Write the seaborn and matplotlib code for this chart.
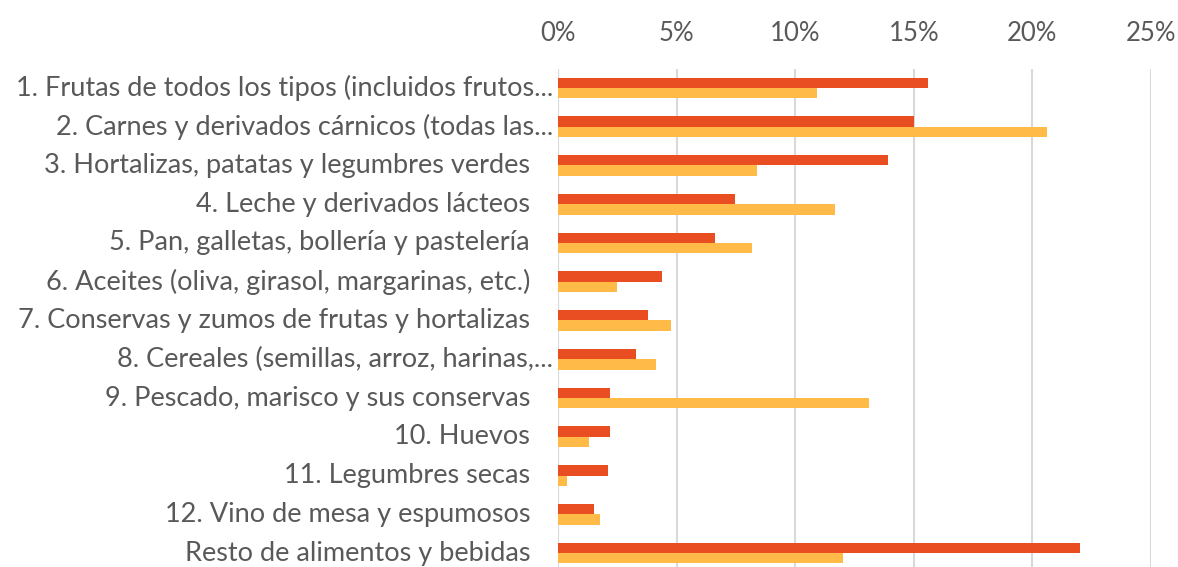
import matplotlib
matplotlib.use("Agg")
import matplotlib.pyplot as plt
import matplotlib.transforms as mtransforms
import seaborn as sns
import pandas as pd
from matplotlib.ticker import PercentFormatter

categorias = [
    "1. Frutas de todos los tipos (incluidos frutos...",
    "2. Carnes y derivados cárnicos (todas las...",
    "3. Hortalizas, patatas y legumbres verdes",
    "4. Leche y derivados lácteos",
    "5. Pan, galletas, bollería y pastelería",
    "6. Aceites (oliva, girasol, margarinas, etc.)",
    "7. Conservas y zumos de frutas y hortalizas",
    "8. Cereales (semillas, arroz, harinas,...",
    "9. Pescado, marisco y sus conservas",
    "10. Huevos",
    "11. Legumbres secas",
    "12. Vino de mesa y espumosos",
    "Resto de alimentos y bebidas",
]
serie1 = [0.156, 0.150, 0.139, 0.0745, 0.066, 0.044, 0.038, 0.033, 0.022, 0.022, 0.021, 0.015, 0.220]
serie2 = [0.109, 0.206, 0.084, 0.117, 0.082, 0.025, 0.0475, 0.0415, 0.131, 0.013, 0.0036, 0.0178, 0.120]
series = ["Serie 1", "Serie 2"]

df = pd.DataFrame({
    "categoria": categorias * 2,
    "valor": serie1 + serie2,
    "serie": [series[0]] * len(categorias) + [series[1]] * len(categorias),
})

sns.set_style("white")
plt.rcParams["font.family"] = ["Lato", "DejaVu Sans"]
gris = "#595959"

fig = plt.figure(figsize=(11.78, 5.67), dpi=100)
ax = fig.add_axes([0.4737, -0.0095, 0.5033, 0.8885])

sns.barplot(data=df, x="valor", y="categoria", hue="serie", hue_order=series,
            palette=["#E84E22", "#FFBA47"], orient="h", width=0.53,
            legend=False, ax=ax, saturation=1, linewidth=0)

ax.set_xlim(0, 0.25)
ax.set_ylim(len(categorias) - 0.5, -0.5)
ax.set_xticks([0, 0.05, 0.10, 0.15, 0.20, 0.25])
ax.xaxis.set_major_formatter(PercentFormatter(1.0, decimals=0))
ax.xaxis.tick_top()
ax.tick_params(axis="x", length=0, pad=16, labelsize=18.5, labelcolor=gris)
ax.tick_params(axis="y", length=0, labelleft=False)
ax.set_xlabel("")
ax.set_ylabel("")
ax.grid(axis="x", color="#D9D9D9", linewidth=1.5)
ax.set_axisbelow(True)
for s in ax.spines.values():
    s.set_visible(False)

# etiquetas de categoria (las truncadas con "..." llegan más cerca del eje)
trans = mtransforms.blended_transform_factory(ax.transAxes, ax.transData)
for i, cat in enumerate(categorias):
    dx = -5 if cat.endswith("...") else -28
    off = mtransforms.ScaledTranslation(dx / 100, 0, fig.dpi_scale_trans)
    ax.text(0, i, cat, transform=trans + off, ha="right", va="center",
            fontsize=19.5, color=gris)

fig.savefig("out.png", dpi=100)
